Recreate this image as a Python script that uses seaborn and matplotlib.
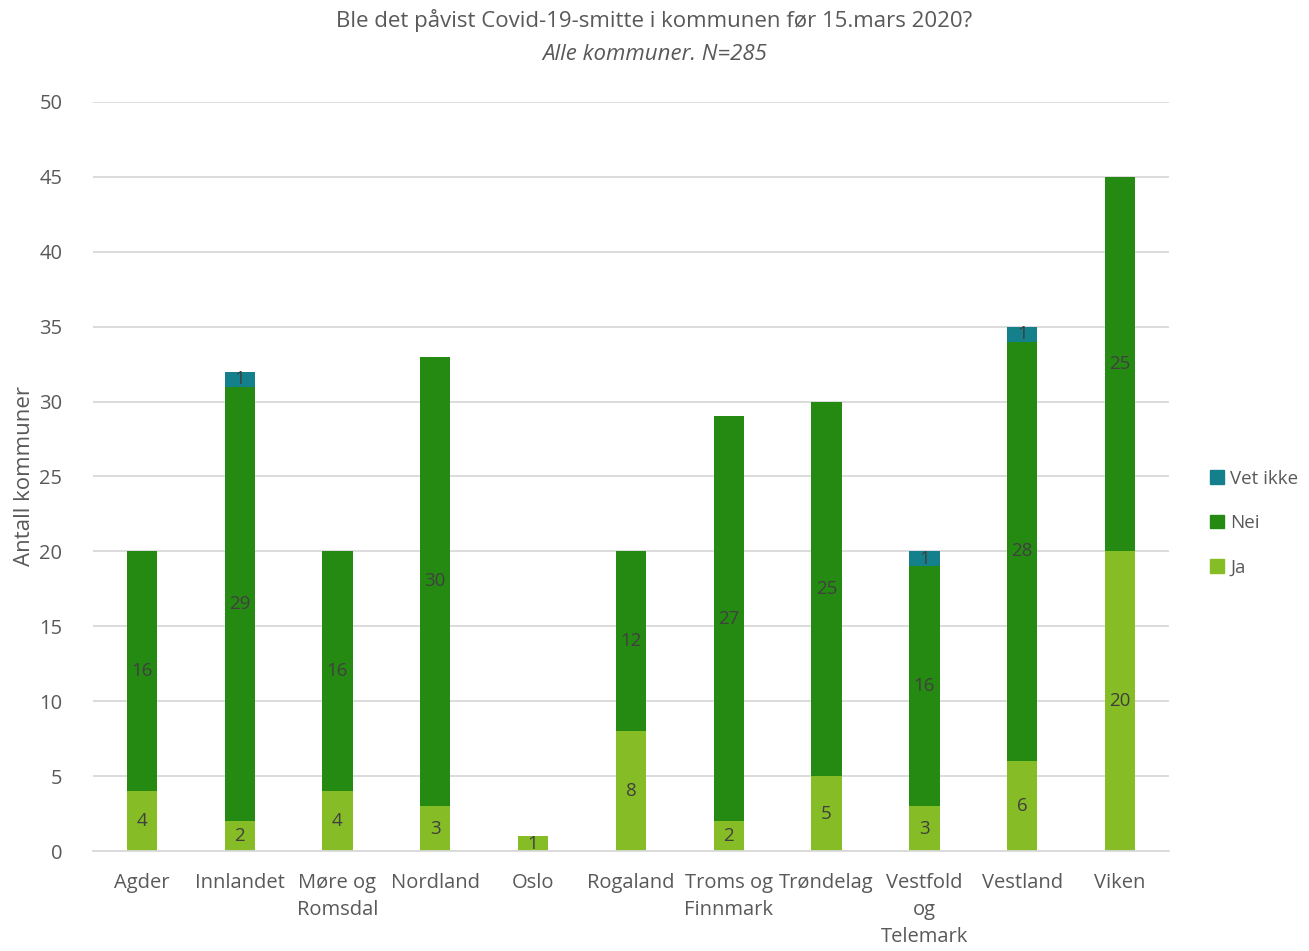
import numpy as np
import pandas as pd
import matplotlib
matplotlib.use("Agg")
import matplotlib.pyplot as plt
import seaborn as sns
from matplotlib.patches import Patch

categories = ["Agder", "Innlandet", "Møre og\nRomsdal", "Nordland", "Oslo", "Rogaland",
              "Troms og\nFinnmark", "Trøndelag", "Vestfold\nog\nTelemark", "Vestland", "Viken"]
ja = [4, 2, 4, 3, 1, 8, 2, 5, 3, 6, 20]
nei = [16, 29, 16, 30, 0, 12, 27, 25, 16, 28, 25]
vet_ikke = [0, 1, 0, 0, 0, 0, 0, 0, 1, 1, 0]

title = "Ble det påvist Covid-19-smitte i kommunen før 15.mars 2020?"
subtitle = "Alle kommuner. N=285"
ylabel = "Antall kommuner"

c_ja = "#86bc25"
c_nei = "#258a12"
c_vet = "#13808c"
txt = "#595959"

sns.set_theme(style="white")
plt.rcParams['font.family'] = ['Open Sans', 'DejaVu Sans']

df = pd.DataFrame({"cat": categories, "ja": ja, "nei": nei, "vet": vet_ikke})
df["ja_nei"] = df["ja"] + df["nei"]
df["total"] = df["ja_nei"] + df["vet"]

fig = plt.figure(figsize=(13.09, 9.51), dpi=100)
ax = fig.add_axes([0.071, 0.105, 0.822, 0.788])

w = 0.31
for col, c in [("total", c_vet), ("ja_nei", c_nei), ("ja", c_ja)]:
    sns.barplot(data=df, x="cat", y=col, color=c, width=w, saturation=1,
                linewidth=0, edgecolor="none", ax=ax)

for i, row in df.iterrows():
    segs = [(row["ja"], 0), (row["nei"], row["ja"]), (row["vet"], row["ja_nei"])]
    for val, base in segs:
        if val > 0:
            ax.text(i, base + val / 2, f"{val}", ha="center", va="center",
                    fontsize=13.5, color="#404040")

ax.set_ylim(0, 50)
ax.set_xlim(-0.5, len(categories) - 0.5)
ax.set_yticks(range(0, 51, 5))
ax.yaxis.grid(True, color="#d9d9d9", linewidth=1.3)
ax.set_axisbelow(True)
for s in ["top", "right", "left"]:
    ax.spines[s].set_visible(False)
ax.spines["bottom"].set_color("#d9d9d9")
ax.spines["bottom"].set_linewidth(1.3)
ax.tick_params(axis="both", length=0, labelsize=14.5, colors=txt, pad=16)
ax.tick_params(axis="y", pad=22)
ax.set_xlabel("")
ax.set_ylabel(ylabel, fontsize=16, color=txt)
ax.yaxis.set_label_coords(-0.054, 0.5)
for lab in ax.get_xticklabels():
    lab.set_linespacing(1.45)
    lab.set_va("top")

fig.text(0.5, 0.978, title, ha="center", va="center", fontsize=16, color=txt)
fig.text(0.5, 0.943, subtitle, ha="center", va="center", fontsize=16, color=txt, style="italic")

handles = [Patch(color=c_vet, label="Vet ikke"), Patch(color=c_nei, label="Nei"),
           Patch(color=c_ja, label="Ja")]
leg = fig.legend(handles=handles, loc="center left", bbox_to_anchor=(0.924, 0.45),
                 frameon=False, fontsize=13.5, handlelength=0.75, handleheight=0.75,
                 handletextpad=0.35, labelspacing=1.4, labelcolor=txt,
                 borderpad=0, borderaxespad=0)

fig.savefig("out.png", dpi=100)
